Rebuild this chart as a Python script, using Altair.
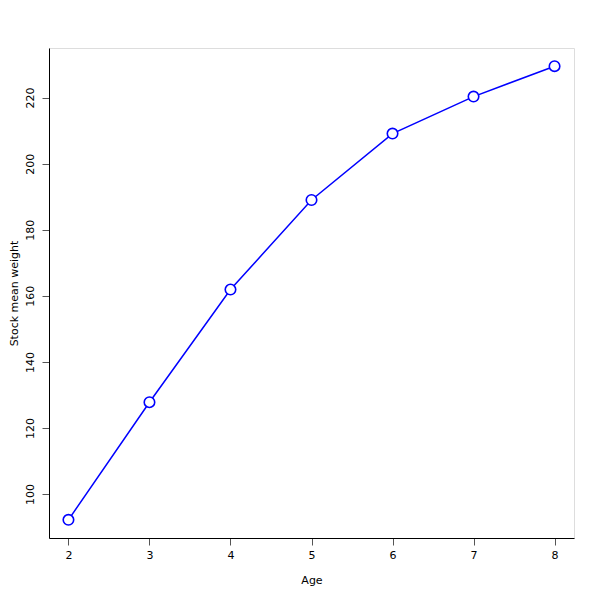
import altair as alt
import pandas as pd

ages = [2, 3, 4, 5, 6, 7, 8]
weights = [92.2, 127.8, 161.9, 189.0, 209.1, 220.3, 229.5]

df = pd.DataFrame({"Age": ages, "Weight": weights})

x = alt.X("Age:Q", scale=alt.Scale(domain=[1.76, 8.24], nice=False, zero=False),
          axis=alt.Axis(values=ages, title="Age", grid=False, tickSize=7, tickColor="#555555",
                        domainColor="black", labelFont="DejaVu Sans", labelFontSize=11,
                        labelColor="black", labelPadding=4, titleFont="DejaVu Sans",
                        titleFontSize=11, titleFontWeight="normal", titleColor="black",
                        titlePadding=14, format="d", labelFlush=False))
y = alt.Y("Weight:Q", scale=alt.Scale(domain=[86.7, 235.0], nice=False, zero=False),
          axis=alt.Axis(values=[100, 120, 140, 160, 180, 200, 220], title="Stock mean weight",
                        grid=False, tickSize=7, tickColor="#555555", domainColor="black",
                        labelFont="DejaVu Sans", labelFontSize=11, labelColor="black",
                        labelAngle=270, labelAlign="center", labelBaseline="bottom",
                        labelPadding=7, titleFont="DejaVu Sans", titleFontSize=11,
                        titleFontWeight="normal", titleColor="black", titlePadding=5,
                        labelFlush=False))

line = alt.Chart(df).mark_line(color="#0000FF", strokeWidth=1.5).encode(x=x, y=y)
pts = alt.Chart(df).mark_point(shape="circle", filled=False, color="#0000FF", fill="white",
                               fillOpacity=1, size=110, strokeWidth=1.6, opacity=1).encode(x=x, y=y)

chart = (line + pts).properties(
    width=525, height=490,
    autosize=alt.AutoSizeParams(type="none"),
    padding={"left": 41, "top": 40, "right": 18, "bottom": 54},
).configure_view(stroke="#333333", strokeWidth=1).configure(background="white")

chart.save("out.html", embed_options={"renderer": "svg", "actions": False})
